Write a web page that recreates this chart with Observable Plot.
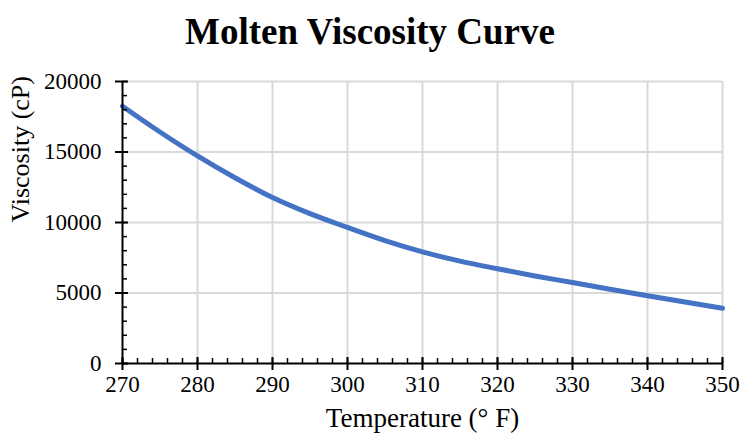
<!DOCTYPE html>
<html>
<head>
<meta charset="utf-8">
<script src="https://cdn.jsdelivr.net/npm/d3@7"></script>
<script src="https://cdn.jsdelivr.net/npm/@observablehq/plot@0.6"></script>
<style>
  body { margin: 0; background: #fff; }
  #title { height: 62px; width: 740px; text-align: center; font-family: "Liberation Serif", "Times New Roman", serif; font-weight: bold; font-size: 37px; line-height: 64px; color: #000; white-space: nowrap; }
  #chart svg g[aria-label$="tick label"] { font-size: 23px !important; font-family: "Liberation Serif", "Times New Roman", serif !important; }
</style>
</head>
<body>
<div id="title">Molten Viscosity Curve</div>
<div id="chart"></div>
<script>
const temperature = [270, 275, 280, 285, 290, 295, 300, 305, 310, 315, 320, 325, 330, 335, 340, 345, 350];
const viscosity = [18250, 16420, 14720, 13170, 11770, 10630, 9650, 8720, 7920, 7260, 6720, 6210, 5740, 5270, 4810, 4360, 3920];
const xMajor = [270, 280, 290, 300, 310, 320, 330, 340, 350];
const yMajor = [0, 5000, 10000, 15000, 20000];
const xMinor = d3.range(270, 351, 2);
const yMinor = d3.range(0, 20001, 1000);
const xLabel = "Temperature (° F)";
const yLabel = "Viscosity (cP)";

const data = temperature.map((t, i) => ({t, v: viscosity[i]}));
const font = "Liberation Serif, Times New Roman, serif";

const chart = Plot.plot({
  width: 740,
  height: 377,
  marginLeft: 122,
  marginRight: 18,
  marginTop: 19,
  marginBottom: 76,
  style: {fontFamily: font, fontSize: "23px", color: "#000", background: "#fff"},
  x: {domain: [270, 350]},
  y: {domain: [0, 20000]},
  marks: [
    Plot.gridX(xMajor.slice(1), {stroke: "#d9d9d9", strokeOpacity: 1, strokeWidth: 2}),
    Plot.gridY(yMajor.slice(1), {stroke: "#d9d9d9", strokeOpacity: 1, strokeWidth: 2}),
    Plot.line(data, {x: "t", y: "v", stroke: "#4472C4", strokeWidth: 5, curve: "monotone-x"}),
    Plot.ruleY([0], {stroke: "#000", strokeWidth: 2}),
    Plot.ruleX([270], {stroke: "#000", strokeWidth: 2}),
    Plot.axisX(xMinor, {tickSize: -5, text: null, strokeWidth: 1.5, label: null}),
    Plot.axisX(xMajor, {tickSize: -6, text: null, strokeWidth: 2, label: null}),
    Plot.axisX(xMajor, {tickSize: 7, tickPadding: 5, strokeWidth: 2, label: null, fontSize: 23, tickFormat: d => String(d)}),
    Plot.axisY(yMinor, {tickSize: -5, text: null, strokeWidth: 1.5, label: null}),
    Plot.axisY(yMajor, {tickSize: -6, text: null, strokeWidth: 2, label: null}),
    Plot.axisY(yMajor, {tickSize: 7, tickPadding: 14, strokeWidth: 2, label: null, fontSize: 23, tickFormat: d => String(d)}),
    Plot.text([xLabel], {text: d => d, frameAnchor: "bottom", dy: 63, fontSize: 27}),
    Plot.text([yLabel], {text: d => d, frameAnchor: "left", dx: -102, rotate: -90, fontSize: 26})
  ]
});
document.getElementById("chart").appendChild(chart);
</script>
</body>
</html>
